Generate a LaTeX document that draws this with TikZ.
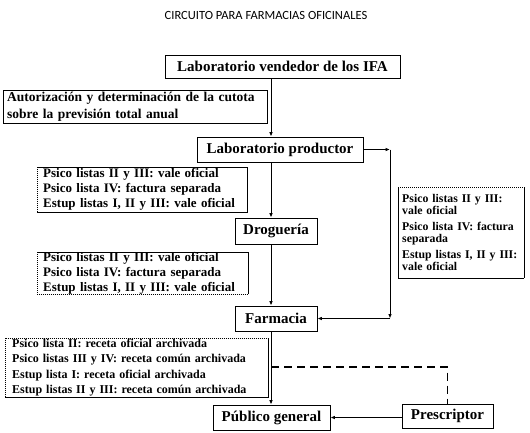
\documentclass[tikz,border=0pt]{standalone}
\usepackage{fontspec}
\setmainfont{Liberation Serif}
\newfontfamily\titlefont{Carlito}
\usetikzlibrary{arrows.meta}
\newcommand\bsz[2]{\bfseries\fontsize{#1}{#2}\selectfont\hyphenpenalty=10000\exhyphenpenalty=10000}
\begin{document}
\begin{tikzpicture}[x=1pt,y=-1pt,
  plain/.style={draw, line width=0.8pt, inner sep=0pt, font=\bsz{15}{15}},
  tb/.style={inner ysep=0pt, anchor=north west, align=left},
  conn/.style={line width=0.9pt, -{Latex[length=4.5pt,width=3.6pt]}},
  thinb/.style={line width=0.7pt},
  thickb/.style={line width=1.8pt},
  dotb/.style={line width=0.7pt, dash pattern=on 1pt off 1pt},
  dashc/.style={line width=1.2pt, dash pattern=on 8pt off 5pt}]
\useasboundingbox[fill=white] (0,0) rectangle (530,432);

\node[font=\titlefont\fontsize{12.5}{14}\selectfont] (title) at (266,15) {CIRCUITO PARA FARMACIAS OFICINALES};

% plain boxes
\node[plain, minimum width=235pt, minimum height=23pt] (vend) at (282.5,66.5) {Laboratorio vendedor de los IFA};
\node[plain, minimum width=166pt, minimum height=25pt] (prod) at (280,149.5) {Laboratorio productor};
\node[plain, minimum width=82pt, minimum height=26pt] (drog) at (276,231) {Droguería};
\node[plain, minimum width=82pt, minimum height=25pt] (farm) at (276,318.5) {Farmacia};
\node[plain, minimum width=117pt, minimum height=25pt] (pub) at (271.5,417.5) {Público general};
\node[plain, minimum width=91pt, minimum height=24pt] (pres) at (447.5,416) {Prescriptor};

% text boxes
\node[tb, inner xsep=4pt, text width=256pt, minimum height=33pt, font=\bsz{13.5}{17}] (aut) at (3,90)
  {Autorización y determinación de la cutota\\sobre la previsión total anual};
\draw[thinb] (aut.south west) -- (aut.north west) -- (aut.north east);
\draw[thickb] (aut.north east) -- (aut.south east) -- (aut.south west);

\node[tb, inner xsep=6pt, text width=198pt, minimum height=45pt, font=\bsz{13}{15}] (box1) at (37,167)
  {Psico listas II y III: vale oficial\\Psico lista IV: factura separada\\Estup listas I, II y III: vale oficial};
\draw[dotb] (box1.south west) -- (box1.north west);
\draw[thinb] (box1.north west) -- (box1.north east);
\draw[thickb] (box1.north east) -- (box1.south east) -- (box1.south west);

\node[tb, inner xsep=6pt, text width=199pt, minimum height=42pt, font=\bsz{13}{15}] (box2) at (37,252)
  {Psico listas II y III: vale oficial\\Psico lista IV: factura separada\\Estup listas I, II y III: vale oficial};
\draw[dotb] (box2.north west) -- (box2.south west) -- (box2.south east);
\draw[thinb] (box2.north west) -- (box2.north east);
\draw[thickb] (box2.north east) -- (box2.south east);

\node[tb, inner xsep=4pt, text width=118pt, minimum height=91pt, font=\bsz{11.8}{12}] (rbox) at (398,187)
  {Psico listas II y III:\\vale oficial\\[4pt]Psico lista IV: factura\\separada\\[4pt]Estup listas I, II y III:\\vale oficial};
\draw[dotb] (rbox.north west) -- (rbox.north east);
\draw[thinb] (rbox.north west) -- (rbox.south west) -- (rbox.south east);
\draw[thickb] (rbox.north east) -- (rbox.south east);

\node[tb, inner xsep=7pt, text width=249pt, minimum height=59pt, font=\bsz{12}{15.3}] (box3) at (5,338)
  {Psico lista II: receta oficial archivada\\Psico listas III y IV: receta común archivada\\Estup lista I: receta oficial archivada\\Estup listas II y III: receta común archivada};
\draw[dotb] (box3.south west) -- (box3.north west) -- (box3.north east);
\draw[thickb] (box3.north east) -- (box3.south east) -- (box3.south west);

% connectors
\coordinate (mx) at (271,0);
\draw[conn] (vend.south -| mx) -- (prod.north -| mx);
\draw[conn] (prod.south -| mx) -- (drog.north -| mx);
\draw[conn] (drog.south -| mx) -- (farm.north -| mx);
\draw[conn] (farm.south -| mx) -- (pub.north -| mx);

\coordinate (rx) at (390,0);
\draw[conn] (prod.east) -- (prod.east -| rx);
\draw[conn] (prod.east -| rx) -- (farm.east -| rx);
\draw[conn] (farm.east -| rx) -- (farm.east);

\draw[conn] (pres.west |- pub.east) -- (pub.east);

\coordinate (d1) at (271,367);
\draw[dashc] (d1) -- (d1 -| pres.north) -- (pres.north);
\end{tikzpicture}
\end{document}
